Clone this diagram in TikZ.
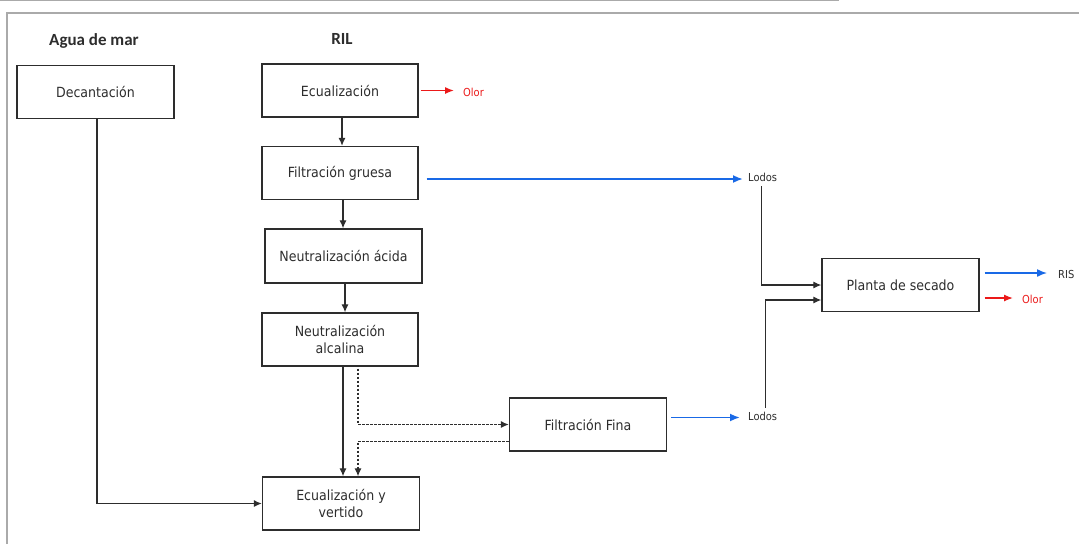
\documentclass[tikz,border=0pt]{standalone}
\usepackage{fontspec}
\setmainfont{DejaVu Sans Condensed}
\newfontfamily\titlefont{Carlito}
\usetikzlibrary{arrows.meta}
\definecolor{framegray}{RGB}{170,170,170}
\definecolor{ink}{RGB}{45,45,45}
\definecolor{flowblue}{RGB}{25,105,230}
\definecolor{flowred}{RGB}{235,25,25}
\tikzset{
  procbox/.style={draw=ink, line width=1.3pt, minimum width=156pt, minimum height=53pt,
    inner sep=2pt, align=center, text=ink, font=\fontsize{14}{17}\selectfont},
  heading/.style={font=\titlefont\bfseries\fontsize{17}{19}\selectfont, text=ink, inner sep=0pt},
  tag/.style={anchor=west, inner sep=0pt, font=\fontsize{11}{12}\selectfont},
  flow/.style={draw=ink, line width=1.2pt, -{Latex[length=8pt,width=7pt]}},
  dflow/.style={flow, dash pattern=on 2.5pt off 1.5pt},
  blueflow/.style={draw=flowblue, line width=1.8pt, -{Latex[length=10pt,width=8pt]}},
  redflow/.style={draw=flowred, line width=1.3pt, -{Latex[length=9pt,width=7pt]}},
  framing/.style={draw=framegray, line width=2pt}
}
\begin{document}
\begin{tikzpicture}[x=1pt, y=-1pt]
  \useasboundingbox (0,0) rectangle (1079,544);
  % page frame
  \draw[framing, line width=1.5pt] (0,0.5) -- (839,0.5);
  \draw[framing] (7,544) -- (7,13) -- (1079,13);

  % column headings
  \node[heading] (agua) at (94,41) {Agua de mar};
  \node[heading] (ril) at (342,39) {RIL};

  % process units
  \node[procbox, minimum width=157pt] (dec) at (95.5,92) {Decantación};
  \node[procbox] (ecu) at (340,90.5) {Ecualización};
  \node[procbox] (fgr) at (340,173) {Filtración gruesa};
  \node[procbox, minimum width=157pt, minimum height=54pt] (nac) at (343.5,256) {Neutralización ácida};
  \node[procbox] (nal) at (340,339.5) {Neutralización\\alcalina};
  \node[procbox, minimum width=157pt] (ffi) at (588,424.5) {Filtración Fina};
  \node[procbox, minimum width=157pt] (evt) at (341,503.5) {Ecualización y\\vertido};
  \node[procbox, minimum width=157pt] (pls) at (900.5,285) {Planta de secado};

  % outlet labels
  \node[tag, text=flowred] (olor1) at (463,92) {Olor};
  \node[tag, text=ink] (lodos1) at (748,177) {Lodos};
  \node[tag, text=ink] (lodos2) at (748,416) {Lodos};
  \node[tag, text=ink] (ris) at (1058,274) {RIS};
  \node[tag, text=flowred] (olor2) at (1022,299) {Olor};

  % main RIL line
  \draw[flow] ([xshift=2pt]ecu.south) -- ([xshift=2pt]fgr.north);
  \draw[flow] ([xshift=3pt]fgr.south) -- ([xshift=3pt]fgr.south |- nac.north);
  \draw[flow] ([xshift=1.5pt]nac.south) -- ([xshift=1.5pt]nac.south |- nal.north);
  \draw[flow] ([xshift=3pt]nal.south) -- ([xshift=3pt]nal.south |- evt.north);

  % fine filtration bypass
  \draw[dflow] ([xshift=18pt,yshift=-2pt]nal.south) |- (ffi.west);
  \draw[dflow] ([yshift=-17pt]ffi.west) -| ([xshift=17pt]evt.north);

  % sea water line
  \draw[flow] (dec.south) ++(1.5,0) |- (evt.west);

  % odour and sludge outlets
  \draw[redflow] ([xshift=2pt]ecu.east) coordinate (r1)
    -- ([xshift=-9pt]olor1.west |- r1);
  \draw[blueflow] ([xshift=8pt,yshift=-6pt]fgr.east) coordinate (b1)
    -- ([xshift=-5pt]lodos1.west |- b1);
  \draw[blueflow] ([xshift=4pt,yshift=7pt]ffi.east) coordinate (b2)
    -- ([xshift=-8pt]lodos2.west |- b2);

  % sludge to drying plant
  \draw[flow] ([xshift=-1pt,yshift=-5pt]lodos1.south) |- (pls.west);
  \draw[flow] ([xshift=3pt,yshift=4pt]lodos2.north) |- ([yshift=-15pt]pls.west);

  % drying plant outlets
  \draw[blueflow, line width=1.5pt] ([xshift=5pt,yshift=12pt]pls.east) coordinate (b3)
    -- ([xshift=-11pt]ris.west |- b3);
  \draw[redflow] ([xshift=5pt,yshift=-13pt]pls.east) coordinate (r2)
    -- ([xshift=-9pt]olor2.west |- r2);
\end{tikzpicture}
\end{document}
